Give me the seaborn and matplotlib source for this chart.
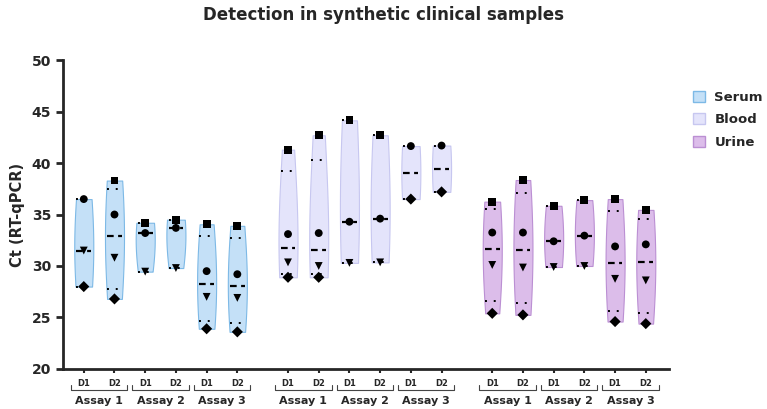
import numpy as np
import pandas as pd
import matplotlib
matplotlib.use("Agg")
import matplotlib.pyplot as plt
from matplotlib.patches import Patch
import seaborn as sns

samples = ["Serum", "Blood", "Urine"]
assays = ["Assay 1", "Assay 2", "Assay 3"]
days = ["D1", "D2"]

# Ct values per violin (order: S A1D1, A1D2, A2D1, A2D2, A3D1, A3D2, then Blood, Urine)
# NaN = replicate not shown
square = [np.nan, 38.3, 34.2, 34.5, 34.05, 33.9,
          41.3, 42.7, 44.15, 42.7, np.nan, np.nan,
          36.25, 38.35, 35.85, 36.4, 36.5, 35.45]
circle = [36.5, 35.0, 33.2, 33.7, 29.5, 29.2,
          33.1, 33.2, 34.3, 34.6, 41.65, 41.7,
          33.25, 33.25, 32.4, 32.95, 31.9, 32.1]
triangle = [31.5, 30.8, 29.45, 29.8, 27.0, 26.9,
            30.35, 30.0, 30.3, 30.35, np.nan, np.nan,
            30.1, 29.85, 29.9, 30.0, 28.75, 28.6]
diamond = [28.0, 26.8, np.nan, np.nan, 23.9, 23.6,
           28.9, 28.9, np.nan, np.nan, 36.5, 37.2,
           25.4, 25.25, np.nan, np.nan, 24.6, 24.4]

colors = {"Serum": "#c4e0f7", "Blood": "#e4e4fb", "Urine": "#dcbdea"}
edges = {"Serum": "#7db9e6", "Blood": "#c7c7f0", "Urine": "#bb8fd3"}

group_gap = 6.65
rows = []
for i in range(18):
    g, rest = divmod(i, 6)
    a, d = divmod(rest, 2)
    pos = g * group_gap + a * 2 + d
    for rep, vals in (("sq", square), ("ci", circle), ("tr", triangle), ("di", diamond)):
        v = vals[i]
        if not np.isnan(v):
            rows.append({"pos": pos, "ct": v, "sample": samples[g], "rep": rep})
df = pd.DataFrame(rows)

sns.set_style("ticks")
fig = plt.figure(figsize=(7.67, 4.09), dpi=100)
ax = fig.add_axes([0.082, 0.098, 0.79, 0.755])

for s in samples:
    sub = df[df["sample"] == s]
    sns.violinplot(data=sub, x="pos", y="ct", native_scale=True, ax=ax,
                   color=colors[s], linecolor=edges[s], linewidth=0.8,
                   inner=None, cut=0, density_norm="width", width=0.62,
                   bw_adjust=1.8, saturation=1)

# median (dashed) and quartiles (dotted), Prism-style percentiles
for pos, grp in df.groupby("pos"):
    v = grp["ct"].values
    q1, med, q3 = np.percentile(v, [25, 50, 75], method="weibull")
    ax.hlines(med, pos - 0.24, pos + 0.24, color="black", lw=1.6,
              linestyles=[(0, (3, 2))], zorder=4)
    ax.hlines([q1, q3], pos - 0.24, pos + 0.24, color="black", lw=1.4,
              linestyles=[(0, (1, 3.5))], zorder=4)

sns.scatterplot(data=df, x="pos", y="ct", style="rep", ax=ax,
                markers={"sq": "s", "ci": "o", "tr": "v", "di": "D"},
                color="black", s=32, edgecolor="black", linewidth=0, legend=False, zorder=5)

ax.set_xlim(-0.68, 19.05)
ax.set_ylim(20, 50)
ax.set_yticks(range(20, 51, 5))
positions = sorted(df["pos"].unique())
ax.set_xticks(positions)
ax.set_xticklabels(days * 9, fontsize=6, fontweight="bold")
ax.tick_params(axis="x", length=3, width=1.5, pad=4)
ax.tick_params(axis="y", labelsize=10, width=2, length=5)
for lab in ax.get_yticklabels():
    lab.set_fontweight("bold")
ax.set_xlabel("")
ax.set_ylabel("Ct (RT-qPCR)", fontsize=10.5, fontweight="bold", labelpad=5)
for sp in ["top", "right"]:
    ax.spines[sp].set_visible(False)
for sp in ["left", "bottom"]:
    ax.spines[sp].set_linewidth(2)

# assay brackets under the D1/D2 labels
trans = ax.get_xaxis_transform()
for g in range(3):
    for a in range(3):
        x0 = g * group_gap + a * 2 - 0.42
        x1 = g * group_gap + a * 2 + 1 + 0.42
        ax.plot([x0, x0, x1, x1], [-0.052, -0.068, -0.068, -0.052], color="#444444",
                lw=0.8, transform=trans, clip_on=False)
        ax.text((x0 + x1) / 2, -0.105, assays[a], transform=trans, ha="center", va="center",
                fontsize=8, fontweight="bold")

handles = [Patch(facecolor=colors[s], edgecolor=edges[s], label=s) for s in samples]
fig.legend(handles=handles, loc="upper left", bbox_to_anchor=(0.897, 0.79), frameon=False,
           prop={"weight": "bold", "size": 9.5}, handlelength=0.9, handleheight=0.9,
           labelspacing=0.7, handletextpad=0.7, borderaxespad=0)

fig.suptitle("Detection in synthetic clinical samples", x=0.5, y=0.985,
             fontsize=12, fontweight="bold")

fig.savefig("out.png", dpi=100)
